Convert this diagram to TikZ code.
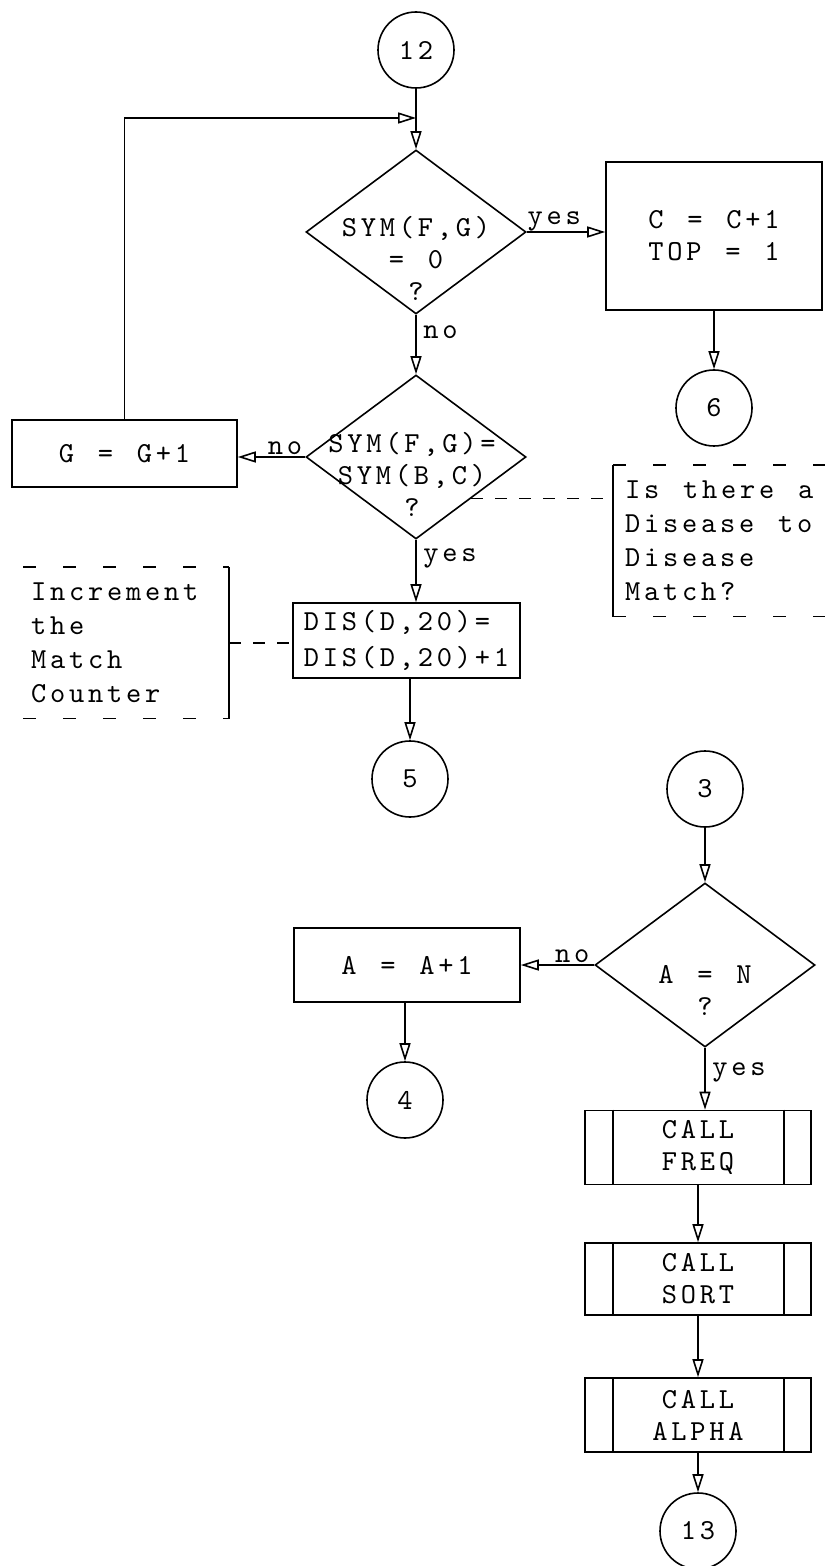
\documentclass[tikz,border=0pt]{standalone}
\usepackage{fontspec}
\newfontfamily\typefont{lmmono10-regular}[Extension=.otf,LetterSpace=13,WordSpace=1.25]
\usetikzlibrary{shapes.geometric}
\usetikzlibrary{arrows.meta}

\begin{document}
\begin{tikzpicture}[x=0.5pt,y=-0.5pt,line width=0.8pt,
		every node/.style={font=\typefont\fontsize{14.5}{16}\selectfont},
		flow/.style={-{Triangle[open,length=9pt,width=5.5pt]}},
		conn/.style={draw,circle,minimum size=38pt,inner sep=0pt},
		decide/.style={draw,diamond,minimum width=110pt,minimum height=82pt,inner sep=0pt},
		stepbox/.style={draw,rectangle,inner sep=0pt,align=center},
		callbox/.style={stepbox,minimum width=113pt,minimum height=37pt},
		note/.style={inner xsep=3.5pt,inner ysep=0pt,minimum height=75pt,align=left,
			font=\typefont\fontsize{14.5}{17}\selectfont},
		bracket/.style={dash pattern=on 6.5pt off 13.5pt},
		tie/.style={dash pattern=on 6pt off 6pt}]
		\useasboundingbox (0,0) rectangle (824,1566);
		% upper column
		\node[conn] (c12) at (416,50) {12};
		\coordinate (join) at (416,118);
		\node[decide] (d1) at (416,232) {};
		\node[align=center] (d1t) at (416,258) {SYM(F,G)\\= 0\\?};
		\node[stepbox,minimum width=108pt,minimum height=74pt] (cbox) at (714,236) {C = C+1\\TOP = 1};
		\node[conn] (c6) at (714,408) {6};
		\node[decide] (d2) at (416,457) {};
		\node[align=center] (d2t) at (412,474) {SYM(F,G)=\\SYM(B,C)\\?};
		\node[stepbox,minimum width=112.5pt,minimum height=33.5pt] (gbox) at (124.5,453.5) {G = G+1};
		\node[stepbox,minimum width=113.5pt,minimum height=37.5pt,align=left] (dis) at (406.5,640.5) {DIS(D,20)=\\[2pt]DIS(D,20)+1};
		\node[conn] (c5) at (410,779) {5};
		% comments
		\node[note,anchor=north west,minimum width=105.5pt] (ask) at (613,465) {Is there a\\Disease to\\Disease\\Match?};
		\node[note,anchor=north east,text width=95pt] (inc) at (229,567) {Increment\\the\\Match\\Counter};
		\draw (ask.north west) -- (ask.south west);
		\draw[bracket] (ask.north west) -- (ask.north east) (ask.south west) -- (ask.south east);
		\draw (inc.north east) -- (inc.south east);
		\draw[bracket] (inc.north west) -- (inc.north east) (inc.south west) -- (inc.south east);
		\draw[tie] (d2.south east) -- (d2.south east -| ask.west);
		\draw[tie] (inc.east) -- (inc.east -| dis.west);
		% lower column
		\node[conn] (c3) at (705,789) {3};
		\node[decide] (d3) at (705,965) {};
		\node[align=center] (d3t) at (705,990) {A = N\\?};
		\node[stepbox,minimum width=113pt,minimum height=37pt] (abox) at (407,965) {A = A+1};
		\node[conn] (c4) at (405,1100) {4};
		\node[callbox] (freq) at (698,1147.5) {CALL\\FREQ};
		\node[callbox,minimum height=36pt] (sort) at (698,1279) {CALL\\SORT};
		\node[callbox] (alpha) at (698,1415) {CALL\\ALPHA};
		\node[conn] (c13) at (698,1531) {13};
		\foreach \b in {freq,sort,alpha}
			\draw ([xshift=14.5pt]\b.north west) -- ([xshift=14.5pt]\b.south west)
				([xshift=-14pt]\b.north east) -- ([xshift=-14pt]\b.south east);
		% arrows
		\draw[flow] (c12.south) -- (d1.north);
		\draw[flow] (gbox.north) |- (join);
		\draw[flow] (d1.east) -- node[above,pos=0.35,inner sep=0pt] (yes1) {yes} (d1.east -| cbox.west);
		\draw[flow] (cbox.south) -- (c6.north);
		\draw[flow] (d1.south) -- node[right,pos=0.3] (no1) {no} (d2.north);
		\draw[flow] (d2.west) -- node[above,pos=0.3,inner sep=1pt] (no2) {no} (d2.west -| gbox.east);
		\draw[flow] (d2.south) -- node[right,pos=0.3] (yes2) {yes} (d2.south |- dis.north);
		\draw[flow] (dis.south -| c5) -- (c5.north);
		\draw[flow] (c3.south) -- (d3.north);
		\draw[flow] (d3.west) -- node[above,pos=0.3,inner sep=1pt] (no3) {no} (d3.west -| abox.east);
		\draw[flow] (abox.south -| c4) -- (c4.north);
		\draw[flow] (d3.south) -- node[right,pos=0.4] (yes3) {yes} (d3.south |- freq.north);
		\draw[flow] (freq.south) -- (sort.north);
		\draw[flow] (sort.south) -- (alpha.north);
		\draw[flow] (alpha.south) -- (c13.north);
	\end{tikzpicture}
\end{document}
